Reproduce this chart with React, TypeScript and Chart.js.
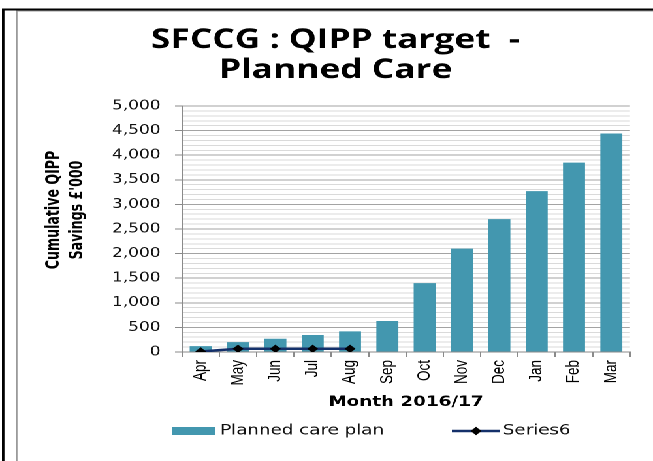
import { useEffect, useRef } from 'react';
import { Chart, registerables } from 'chart.js';

Chart.register(...registerables);

const months = ['Apr', 'May', 'Jun', 'Jul', 'Aug', 'Sep', 'Oct', 'Nov', 'Dec', 'Jan', 'Feb', 'Mar'];
const plannedCarePlan = [120, 200, 270, 345, 420, 630, 1400, 2100, 2700, 3270, 3850, 4440];
const series6 = [10, 65, 65, 65, 65, null, null, null, null, null, null, null];
const titleLines = ['SFCCG : QIPP target  -', 'Planned Care'];
const yTitleLines = ['Cumulative QIPP', "Savings £'000"];
const xTitle = 'Month 2016/17';
const legendLabels = ['Planned care plan', 'Series6'];
const yMin = 0;
const yMax = 5000;
const yMinorStep = 100;
const yMajorStep = 500;

const W = 500;
const H = 461;
const SX = 653 / W;

const BAR_COLOR = '#4397AF';
const LINE_COLOR = '#14306A';

const decor = {
  id: 'decor',
  beforeDraw(chart: any) {
    const ctx = chart.ctx;
    ctx.save();
    ctx.fillStyle = '#ffffff';
    ctx.fillRect(0, 0, W, H);
    // outer black frame
    ctx.fillStyle = '#000000';
    ctx.fillRect(1.5, 8.5, W, 2);
    ctx.fillRect(1.5, 8.5, 1.9, H);
    // inner gray chart border
    ctx.fillStyle = '#9a9a9a';
    ctx.fillRect(12.3, 10.5, W, 1);
    ctx.fillRect(12.3, 10.5, 1.1, H);
    ctx.restore();
  },
  afterDraw(chart: any) {
    const ctx = chart.ctx;
    ctx.save();
    // title
    ctx.fillStyle = '#000';
    ctx.textAlign = 'center';
    ctx.textBaseline = 'alphabetic';
    ctx.font = "bold 27px 'Open Sans'";
    ctx.fillText(titleLines[0], 257, 48);
    ctx.fillText(titleLines[1], 257, 78);

    // y title
    ctx.font = "bold 14px 'Liberation Sans Narrow', 'DejaVu Sans Condensed', Arial";
    ctx.textBaseline = 'middle';
    const yc = 210;
    [41.5, 59.5].forEach((x, i) => {
      ctx.save();
      ctx.translate(x, yc);
      ctx.rotate(-Math.PI / 2);
      ctx.fillText(yTitleLines[i], 0, 0);
      ctx.restore();
    });

    // legend
    const ly = 431;
    ctx.fillStyle = BAR_COLOR;
    ctx.fillRect(131.7, ly - 4, 33, 8);
    ctx.fillStyle = '#111';
    ctx.textAlign = 'left';
    ctx.font = "14px 'DejaVu Sans'";
    ctx.fillText(legendLabels[0], 168.5, ly);
    ctx.strokeStyle = LINE_COLOR;
    ctx.lineWidth = 2.5;
    ctx.beginPath();
    ctx.moveTo(346, ly);
    ctx.lineTo(383, ly);
    ctx.stroke();
    ctx.fillStyle = '#000';
    ctx.beginPath();
    const r = 4.2;
    ctx.moveTo(364.5, ly - r);
    ctx.lineTo(364.5 + r, ly);
    ctx.lineTo(364.5, ly + r);
    ctx.lineTo(364.5 - r, ly);
    ctx.closePath();
    ctx.fill();
    ctx.fillStyle = '#111';
    ctx.fillText(legendLabels[1], 385, ly);
    ctx.restore();
  },
};

export default function App() {
  const ref = useRef<HTMLCanvasElement>(null);
  useEffect(() => {
    if (!ref.current) return;
    const chart = new Chart(ref.current, {
      type: 'bar',
      data: {
        labels: months,
        datasets: [
          {
            type: 'line',
            label: legendLabels[1],
            data: series6,
            borderColor: LINE_COLOR,
            borderWidth: 2.5,
            pointStyle: 'rectRot',
            pointRadius: 4.2,
            pointBackgroundColor: '#000',
            pointBorderColor: '#000',
            pointBorderWidth: 0,
            spanGaps: false,
            order: 0,
          } as any,
          {
            type: 'bar',
            label: legendLabels[0],
            data: plannedCarePlan,
            backgroundColor: BAR_COLOR,
            barPercentage: 0.59,
            categoryPercentage: 1,
            order: 1,
          },
        ],
      },
      options: {
        responsive: false,
        animation: false,
        devicePixelRatio: 2,
        layout: { padding: { left: 13, right: 17.6, top: 106, bottom: 50 } },
        plugins: {
          legend: { display: false },
          title: { display: false },
          tooltip: { enabled: false },
        },
        scales: {
          x: {
            grid: {
              display: true,
              drawOnChartArea: false,
              drawTicks: true,
              tickLength: 5,
              color: '#8a8a8a',
              offset: true,
            },
            border: { display: true, color: '#8a8a8a', width: 1 },
            ticks: {
              minRotation: 90,
              maxRotation: 90,
              padding: 3,
              color: '#000',
              font: { family: "'Liberation Sans', Arial", size: 13.5 },
              autoSkip: false,
            },
            title: {
              display: true,
              text: xTitle,
              color: '#000',
              font: { family: "'DejaVu Sans'", size: 14, weight: 'bold' },
              padding: { top: 0, bottom: 0 },
            },
            afterFit: (scale: any) => {
              scale.height = 59;
            },
          },
          y: {
            min: yMin,
            max: yMax,
            grid: {
              color: (c: any) => (c.tick && c.tick.value % yMajorStep === 0 ? '#a3a3a3' : '#dadada'),
              tickColor: (c: any) => (c.tick && c.tick.value % yMajorStep === 0 ? '#8a8a8a' : 'rgba(0,0,0,0)'),
              tickLength: 5.4,
              lineWidth: 1,
            },
            border: { display: true, color: '#8a8a8a', width: 1 },
            ticks: {
              stepSize: yMinorStep,
              autoSkip: false,
              padding: 11,
              color: '#111',
              font: { family: "'DejaVu Sans'", size: 13 },
              callback: (v: any) => (Number(v) % yMajorStep === 0 ? Number(v).toLocaleString('en-US') : ''),
            },
            afterFit: (scale: any) => {
              scale.width = 126.4;
            },
          },
        },
      },
      plugins: [decor],
    });
    return () => chart.destroy();
  }, []);
  return (
    <div
      style={{
        position: 'fixed',
        left: 0,
        top: 0,
        width: W,
        height: H,
        transform: `scaleX(${SX})`,
        transformOrigin: '0 0',
        background: '#fff',
      }}
    >
      <canvas ref={ref} width={W} height={H} />
    </div>
  );
}
